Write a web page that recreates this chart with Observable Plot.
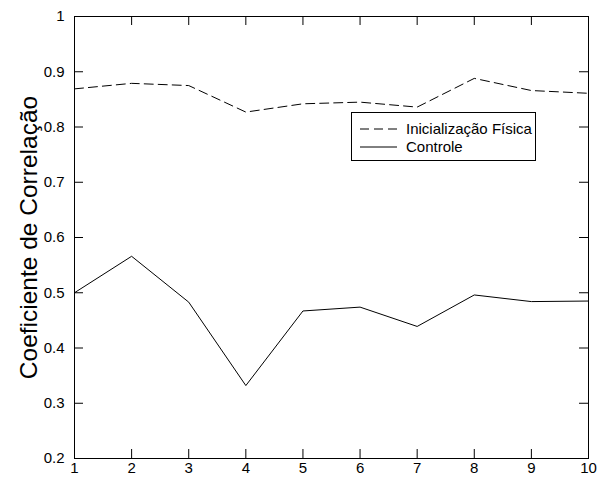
<!DOCTYPE html>
<html>
<head>
<meta charset="utf-8">
<script src="https://cdn.jsdelivr.net/npm/d3@7"></script>
<script src="https://cdn.jsdelivr.net/npm/@observablehq/plot@0.6"></script>
<style>
  body { margin: 0; background: #fff; }
  #wrap { position: relative; width: 600px; height: 481px; font-family: "Liberation Sans", Arial, sans-serif; }
  #legend { position: absolute; left: 351px; top: 112px; width: 183px; height: 47px; border: 1px solid #000; background: #fff; font-size: 15px; color: #000; }
  #legend .row { position: absolute; left: 8px; height: 18px; display: flex; align-items: center; }
  #legend .row svg { display: block; }
  #legend .row span { margin-left: 9px; line-height: 18px; }
</style>
</head>
<body>
<div id="wrap"></div>
<script>
const years = [1, 2, 3, 4, 5, 6, 7, 8, 9, 10];
const inicializacaoFisica = [0.869, 0.879, 0.875, 0.827, 0.842, 0.845, 0.836, 0.888, 0.866, 0.861];
const controle = [0.500, 0.566, 0.483, 0.332, 0.467, 0.474, 0.439, 0.496, 0.484, 0.485];
const xTicks = [1, 2, 3, 4, 5, 6, 7, 8, 9, 10];
const yTicks = [0.2, 0.3, 0.4, 0.5, 0.6, 0.7, 0.8, 0.9, 1];
const seriesNames = ["Inicialização Física", "Controle"];
const yLabel = "Coeficiente de Correlação";

const W = 600, H = 481;
const M = {top: 16, right: 12, bottom: 23, left: 74};
const pw = W - M.left - M.right, ph = H - M.top - M.bottom;
const tl = 9;

const dataA = years.map((x, i) => ({x, y: inicializacaoFisica[i]}));
const dataB = years.map((x, i) => ({x, y: controle[i]}));

const chart = Plot.plot({
  width: W, height: H,
  marginTop: M.top, marginRight: M.right, marginBottom: M.bottom, marginLeft: M.left,
  style: {fontFamily: '"Liberation Sans", Arial, sans-serif', fontSize: "15px", color: "#000", background: "#fff"},
  x: {domain: [1, 10]},
  y: {domain: [0.2, 1]},
  marks: [
    Plot.frame({stroke: "#000", strokeWidth: 1}),
    Plot.axisX({ticks: xTicks, tickSize: 0, tickPadding: 4, tickFormat: d => String(d), label: null, fontSize: 15}),
    Plot.axisY({ticks: yTicks, tickSize: 0, tickPadding: 10, tickFormat: d => String(d), label: null, fontSize: 15}),
    Plot.tickX(xTicks, {x: d => d, insetTop: ph - tl, stroke: "#000"}),
    Plot.tickX(xTicks, {x: d => d, insetBottom: ph - tl, stroke: "#000"}),
    Plot.tickY(yTicks, {y: d => d, insetRight: pw - tl, stroke: "#000"}),
    Plot.tickY(yTicks, {y: d => d, insetLeft: pw - tl, stroke: "#000"}),
    Plot.line(dataA, {x: "x", y: "y", stroke: "#000", strokeWidth: 1, strokeDasharray: "9,5"}),
    Plot.line(dataB, {x: "x", y: "y", stroke: "#000", strokeWidth: 1}),
    Plot.text([yLabel], {text: d => d, frameAnchor: "left", textAnchor: "middle", rotate: -90, dx: -45, fontSize: 24.5, fill: "#000"})
  ]
});
const wrap = document.getElementById("wrap");
wrap.appendChild(chart);

const legend = document.createElement("div");
legend.id = "legend";
const dashes = ["9,5", null];
seriesNames.forEach((name, i) => {
  const row = document.createElement("div");
  row.className = "row";
  row.style.top = (7 + i * 18) + "px";
  row.innerHTML = `<svg width="37" height="10"><line x1="0" y1="5" x2="37" y2="5" stroke="#000" stroke-width="1" ${dashes[i] ? `stroke-dasharray="${dashes[i]}"` : ""}/></svg><span>${name}</span>`;
  legend.appendChild(row);
});
wrap.appendChild(legend);
</script>
</body>
</html>
